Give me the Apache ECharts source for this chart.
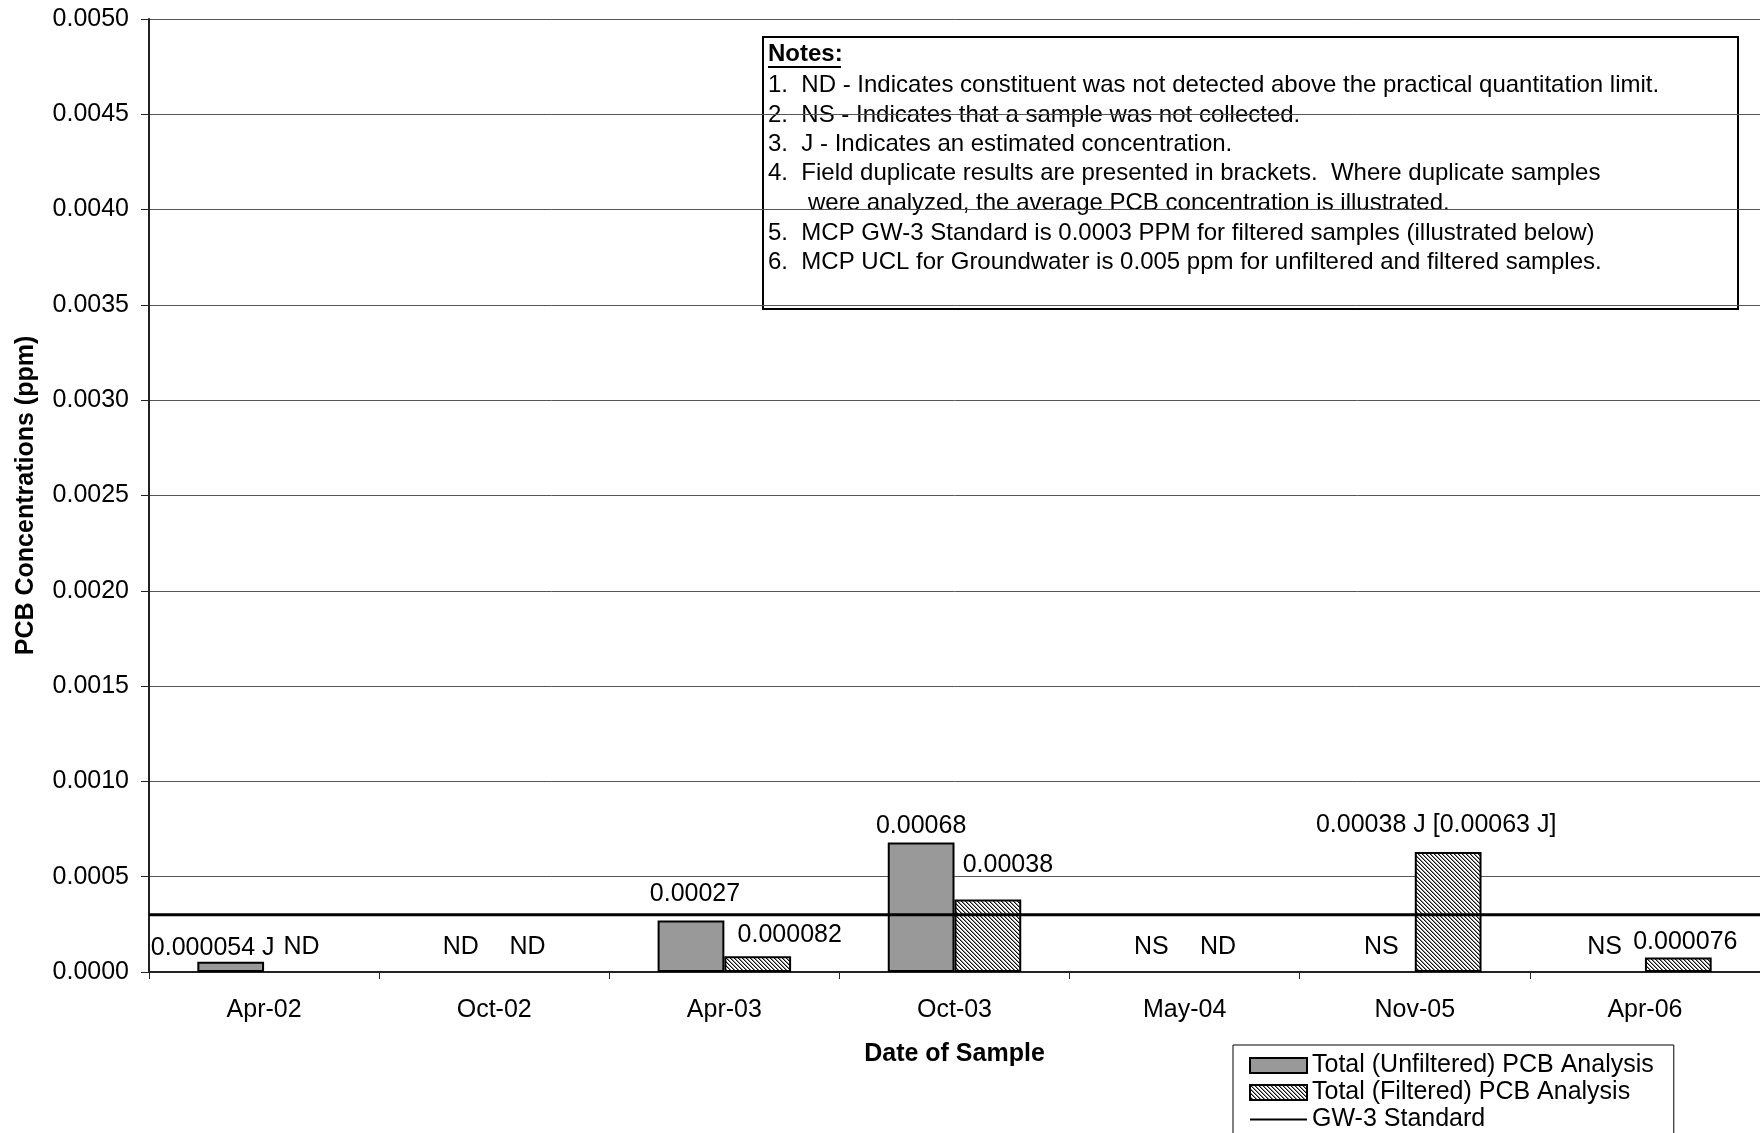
<!DOCTYPE html>
<html>
<head>
<meta charset="utf-8">
<script src="https://cdn.jsdelivr.net/npm/echarts@6/dist/echarts.min.js"></script>
<style>html,body{margin:0;padding:0;background:#fff;}#chart{width:1760px;height:1133px;}</style>
</head>
<body>
<div id="chart"></div>
<script>
const categories = ['Apr-02', 'Oct-02', 'Apr-03', 'Oct-03', 'May-04', 'Nov-05', 'Apr-06'];
const unfilteredValues = [0.000054, 0, 0.00027, 0.00068, 0, 0, 0];
const filteredValues = [0, 0, 0.000082, 0.00038, 0, 0.00063, 0.000076];
const unfilteredLabels = ['0.000054 J', 'ND', '0.00027', '0.00068', 'NS', 'NS', 'NS'];
const filteredLabels = ['ND', 'ND', '0.000082', '0.00038', 'ND', '0.00038 J [0.00063 J]', '0.000076'];
const gw3Values = [0.0003, 0.0003, 0.0003, 0.0003, 0.0003, 0.0003, 0.0003];
const seriesNames = ['Total (Unfiltered) PCB Analysis', 'Total (Filtered) PCB Analysis', 'GW-3 Standard'];
const notesTitle = 'Notes:';
const notesLines = [
  '1.  ND - Indicates constituent was not detected above the practical quantitation limit.',
  '2.  NS - Indicates that a sample was not collected.',
  '3.  J - Indicates an estimated concentration.',
  '4.  Field duplicate results are presented in brackets.  Where duplicate samples',
  '      were analyzed, the average PCB concentration is illustrated.',
  '5.  MCP GW-3 Standard is 0.0003 PPM for filtered samples (illustrated below)',
  '6.  MCP UCL for Groundwater is 0.005 ppm for unfiltered and filtered samples.'
];

// label placement tweaks (style only): [dx, dy]
const unfilteredShift = [[-18, -1], [0, -12], [4, -14], [0, -4], [0, -12], [0, -12], [-7, -12]];
const filteredShift = [[4, -12], [0, -12], [32, -9], [20, -22], [0, -12], [-12, -14], [7, -3]];

const FONT = "'Liberation Sans', Arial, sans-serif";

function hatchPattern() {
  const c = document.createElement('canvas');
  c.width = 4; c.height = 4;
  const g = c.getContext('2d');
  g.fillStyle = '#ffffff';
  g.fillRect(0, 0, 4, 4);
  for (let i = 0; i < 4; i++) {
    g.fillStyle = '#111111';
    g.fillRect(i, i, 1, 1);
    g.fillStyle = '#8a8a8a';
    g.fillRect((i + 1) % 4, i, 1, 1);
  }
  return c;
}
const hatch = { image: hatchPattern(), repeat: 'repeat' };

function barData(values, labels, shifts) {
  return values.map((v, i) => ({
    value: v,
    itemStyle: v === 0 ? { borderWidth: 0 } : undefined,
    label: { formatter: labels[i], offset: shifts[i] }
  }));
}

const labelBase = {
  show: true, position: 'top', distance: 0,
  fontFamily: FONT, fontSize: 25, color: '#000'
};

const chart = echarts.init(document.getElementById('chart'), null, { renderer: 'canvas' });

const noteChildren = [
  { type: 'rect', shape: { x: 763, y: 37, width: 975, height: 272 },
    style: { fill: '#fff', stroke: '#000', lineWidth: 2 } },
  { type: 'text', x: 768, y: 54,
    style: { text: notesTitle, font: 'bold 24px ' + FONT, fill: '#000', verticalAlign: 'middle' } },
  { type: 'line', shape: { x1: 768, y1: 67, x2: 841, y2: 67 }, style: { stroke: '#000', lineWidth: 2 } }
];
const noteY = [85, 115, 144, 173, 203, 233, 262];
notesLines.forEach((t, i) => {
  noteChildren.push({ type: 'text', x: 768, y: noteY[i],
    style: { text: t, font: '24px ' + FONT, fill: '#000', verticalAlign: 'middle' } });
});

const option = {
  backgroundColor: '#fff',
  animation: false,
  textStyle: { fontFamily: FONT },
  grid: { left: 149, right: 0, top: 19, bottom: 161, containLabel: false },
  xAxis: [
    {
      type: 'category', data: categories,
      name: 'Date of Sample', nameLocation: 'middle', nameGap: 70,
      nameTextStyle: { fontFamily: FONT, fontSize: 25, fontWeight: 'bold', color: '#000' },
      axisLine: { lineStyle: { color: '#222', width: 2 } },
      axisTick: { show: true, length: 7, lineStyle: { color: '#222', width: 1 } },
      axisLabel: { fontFamily: FONT, fontSize: 25, color: '#000', margin: 26 },
      splitLine: { show: false }
    },
    {
      type: 'category', data: categories, boundaryGap: false, show: false
    }
  ],
  yAxis: {
    type: 'value', min: 0, max: 0.005, interval: 0.0005,
    name: 'PCB Concentrations (ppm)', nameLocation: 'middle', nameGap: 110,
    nameTextStyle: { fontFamily: FONT, fontSize: 25, fontWeight: 'bold', color: '#000' },
    axisLine: { show: true, lineStyle: { color: '#222', width: 2 } },
    axisTick: { show: true, length: 8, lineStyle: { color: '#222', width: 1 } },
    axisLabel: { fontFamily: FONT, fontSize: 25, color: '#000', margin: 20,
      formatter: v => v.toFixed(4) },
    splitLine: { show: true, lineStyle: { color: '#555', width: 1 } }
  },
  legend: {
    orient: 'vertical', left: 1233, top: 1045, height: 160,
    backgroundColor: '#fff', borderColor: '#000', borderWidth: 1,
    padding: [8, 20, 30, 16],
    itemWidth: 57, itemHeight: 15, itemGap: 2,
    textStyle: { fontFamily: FONT, fontSize: 25, color: '#000', lineHeight: 25 },
    data: [
      { name: seriesNames[0], icon: 'rect' },
      { name: seriesNames[1], icon: 'rect' },
      { name: seriesNames[2], itemStyle: { color: 'rgba(0,0,0,0)', borderWidth: 0, opacity: 0 },
        lineStyle: { color: '#000', width: 2 } }
    ]
  },
  series: [
    {
      name: seriesNames[0], type: 'bar', barGap: '0%', barCategoryGap: '42%',
      itemStyle: { color: '#999999', borderColor: '#000', borderWidth: 2 },
      label: labelBase,
      data: barData(unfilteredValues, unfilteredLabels, unfilteredShift)
    },
    {
      name: seriesNames[1], type: 'bar', barGap: '0%', barCategoryGap: '42%',
      itemStyle: { color: hatch, borderColor: '#000', borderWidth: 2 },
      label: labelBase,
      data: barData(filteredValues, filteredLabels, filteredShift)
    },
    {
      name: seriesNames[2], type: 'line', xAxisIndex: 1, symbol: 'none',
      lineStyle: { color: '#000', width: 3 }, itemStyle: { color: '#000' },
      z: 5,
      data: gw3Values
    }
  ],
  graphic: [{ type: 'group', z: 100, children: noteChildren }]
};
chart.setOption(option);
</script>
</body>
</html>
